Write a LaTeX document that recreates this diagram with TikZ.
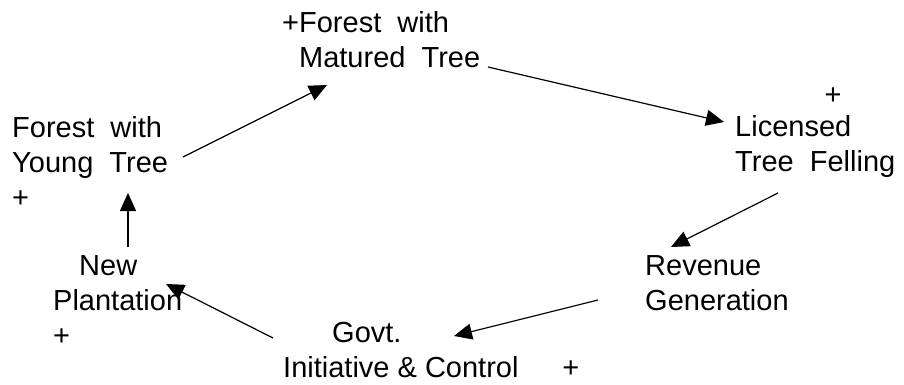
\documentclass[tikz,border=0pt]{standalone}
\usepackage{fontspec}
\setmainfont{Liberation Sans}
\usetikzlibrary{arrows.meta}
\begin{document}
\begin{tikzpicture}[x=1pt,y=-1pt,
  lbl/.style={anchor=base west,inner sep=0pt,align=left,
    font=\fontsize{29}{35}\selectfont},
  sign/.style={inner sep=0pt,font=\fontsize{29}{35}\selectfont},
  link/.style={line width=1.2pt,-{Triangle[length=18pt,width=16pt]}}]
\useasboundingbox (0,0) rectangle (904,385);

% loop elements (placed by the baseline of their last line)
\node[lbl] (mature) at (282,68) {+Forest~~with\\\hphantom{+}Matured~~Tree};
\node[lbl] (licence) at (735,171) {Licensed\\Tree~~Felling};
\node[sign] (plusL) at (833,96) {+};
\node[lbl] (revenue) at (645,310) {Revenue\\Generation};
\node[lbl] (govt) at (283,377) {\hspace*{49pt}Govt.\\Initiative \& Control\hspace*{44pt}+};
\node[lbl] (plant) at (53,345) {\hspace*{26pt}New\\Plantation\\+};
\node[lbl] (young) at (12,207) {Forest~~with\\Young~~Tree\\+};

% connector ends
\coordinate (youngOut) at (183,157);
\coordinate (matureIn) at (327,85);
\coordinate (matureOut) at (488,67);
\coordinate (licenceIn) at (724,122);
\coordinate (licenceOut) at (778,193);
\coordinate (revenueIn) at (671,247);
\coordinate (revenueOut) at (598,300);
\coordinate (govtIn) at (454,336);
\coordinate (govtOut) at (273,338);
\coordinate (plantIn) at (166,284);
\coordinate (plantOut) at (128,247);
\coordinate (youngIn) at (128,193);

\draw[link] (youngOut) -- (matureIn);
\draw[link] (matureOut) -- (licenceIn);
\draw[link] (licenceOut) -- (revenueIn);
\draw[link] (revenueOut) -- (govtIn);
\draw[link] (govtOut) -- (plantIn);
\draw[link] (plantOut) -- (youngIn);
\end{tikzpicture}
\end{document}
